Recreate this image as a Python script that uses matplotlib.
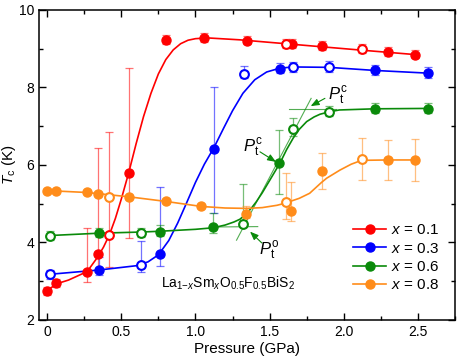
import numpy as np
import matplotlib
matplotlib.use("Agg")
import matplotlib.pyplot as plt
from matplotlib.ticker import MultipleLocator
from matplotlib.lines import Line2D

plt.rcParams['font.family'] = ['Liberation Sans', 'DejaVu Sans']
plt.rcParams['mathtext.fontset'] = 'custom'
plt.rcParams['mathtext.rm'] = 'Liberation Sans'
plt.rcParams['mathtext.it'] = 'Liberation Sans:italic'

# measured points: pressure (GPa), Tc (K), error bars, open marker flag
red_P = [0.00, 0.06, 0.27, 0.34, 0.42, 0.55, 0.80, 1.06, 1.35, 1.61, 1.65, 1.855, 2.12, 2.30, 2.48]
red_T = [2.75, 2.95, 3.23, 3.70, 4.20, 5.80, 9.23, 9.28, 9.21, 9.12, 9.12, 9.07, 8.99, 8.92, 8.85]
red_lo = [0.1, 0.1, 0.24, 0.45, 0.82, 1.69, 0.1, 0.1, 0.1, 0.1, 0.1, 0.1, 0.1, 0.1, 0.1]
red_hi = [0.1, 0.1, 1.15, 2.74, 2.65, 2.70, 0.13, 0.13, 0.13, 0.13, 0.13, 0.13, 0.13, 0.13, 0.13]
red_open = [0, 0, 0, 0, 1, 0, 0, 0, 0, 1, 0, 0, 1, 0, 0]

blue_P = [0.02, 0.35, 0.635, 0.76, 1.125, 1.325, 1.57, 1.655, 1.90, 2.21, 2.57]
blue_T = [3.18, 3.29, 3.43, 3.70, 6.41, 8.36, 8.49, 8.52, 8.53, 8.44, 8.37]
blue_lo = [0.12, 0.13, 0.19, 0.31, 1.64, 0.12, 0.12, 0.12, 0.12, 0.12, 0.12]
blue_hi = [0.12, 0.33, 0.60, 1.72, 1.61, 0.20, 0.15, 0.15, 0.15, 0.15, 0.15]
blue_open = [1, 0, 1, 0, 0, 1, 0, 1, 1, 0, 0]

green_P = [0.02, 0.35, 0.635, 0.76, 1.12, 1.32, 1.565, 1.655, 1.90, 2.21, 2.57]
green_T = [4.18, 4.25, 4.25, 4.28, 4.40, 4.49, 6.04, 6.94, 7.38, 7.45, 7.45]
green_lo = [0.12, 0.12, 0.12, 0.12, 0.15, 0.10, 0.78, 0.20, 0.12, 0.12, 0.12]
green_hi = [0.12, 0.12, 0.12, 0.18, 0.36, 1.03, 0.86, 0.26, 0.15, 0.15, 0.15]
green_open = [1, 0, 1, 0, 0, 1, 0, 1, 1, 0, 0]

orange_P = [0.00, 0.06, 0.27, 0.34, 0.42, 0.55, 0.80, 1.04, 1.34, 1.61, 1.645, 1.855, 2.12, 2.30, 2.48]
orange_T = [5.34, 5.32, 5.30, 5.26, 5.18, 5.18, 5.06, 4.94, 4.74, 5.04, 4.82, 5.85, 6.15, 6.13, 6.13]
orange_lo = [0.05, 0.05, 0.05, 0.05, 0.05, 0.05, 0.05, 0.05, 0.10, 0.44, 0.27, 0.47, 0.55, 0.52, 0.55]
orange_hi = [0.05, 0.05, 0.05, 0.05, 0.05, 0.05, 0.05, 0.05, 0.19, 0.76, 0.75, 0.47, 0.55, 0.52, 0.55]
orange_open = [0, 0, 0, 0, 1, 0, 0, 0, 0, 1, 0, 0, 1, 0, 0]

# fit curves
red_fit_P = [0.00, 0.06, 0.144, 0.27, 0.34, 0.38, 0.42, 0.46, 0.50, 0.55, 0.60, 0.65, 0.70, 0.75, 0.80, 0.85, 0.90, 0.95, 1.00, 1.08, 1.30, 1.70, 2.10, 2.48]
red_fit_T = [2.75, 2.93, 3.03, 3.25, 3.62, 3.88, 4.20, 4.62, 5.12, 5.80, 6.55, 7.25, 7.85, 8.35, 8.72, 8.97, 9.13, 9.22, 9.26, 9.28, 9.23, 9.10, 8.97, 8.85]
blue_fit_P = [0.02, 0.35, 0.60, 0.68, 0.75, 0.82, 0.88, 0.94, 1.00, 1.06, 1.125, 1.19, 1.25, 1.32, 1.40, 1.48, 1.57, 1.66, 1.90, 2.21, 2.57]
blue_fit_T = [3.18, 3.29, 3.40, 3.50, 3.68, 4.05, 4.50, 5.02, 5.55, 6.02, 6.45, 6.95, 7.40, 7.85, 8.20, 8.40, 8.50, 8.53, 8.52, 8.44, 8.37]
green_fit_P = [0.02, 0.35, 0.635, 0.76, 1.00, 1.12, 1.20, 1.26, 1.30, 1.34, 1.38, 1.41, 1.45, 1.50, 1.57, 1.615, 1.66, 1.70, 1.75, 1.80, 1.84, 1.90, 1.97, 2.21, 2.57]
green_fit_T = [4.18, 4.24, 4.27, 4.29, 4.34, 4.38, 4.45, 4.53, 4.60, 4.73, 4.90, 5.05, 5.28, 5.60, 6.05, 6.40, 6.70, 6.92, 7.12, 7.24, 7.31, 7.37, 7.42, 7.45, 7.46]
orange_fit_P = [0.00, 0.27, 0.55, 0.80, 1.04, 1.20, 1.345, 1.45, 1.55, 1.60, 1.70, 1.77, 1.85, 1.885, 1.975, 2.05, 2.12, 2.30, 2.48]
orange_fit_T = [5.34, 5.29, 5.18, 5.06, 4.93, 4.89, 4.88, 4.90, 4.96, 5.01, 5.14, 5.27, 5.55, 5.66, 5.87, 6.02, 6.12, 6.13, 6.13]

# tangent construction lines for x = 0.6
steep_P = [1.277, 1.78]
steep_T = [4.06, 7.72]
top_P = [1.63, 1.95]
top_T = [7.45, 7.45]
base_P = [1.12, 1.42]
base_T = [4.40, 4.41]

labels = ['0.1', '0.3', '0.6', '0.8']
colors = ['#ff0000', '#0000ff', '#0a8a0a', '#ff8c1a']

series = [
    (red_P, red_T, red_lo, red_hi, red_open, red_fit_P, red_fit_T),
    (blue_P, blue_T, blue_lo, blue_hi, blue_open, blue_fit_P, blue_fit_T),
    (green_P, green_T, green_lo, green_hi, green_open, green_fit_P, green_fit_T),
    (orange_P, orange_T, orange_lo, orange_hi, orange_open, orange_fit_P, orange_fit_T),
]

fig = plt.figure(figsize=(4.63, 3.61), dpi=100)
ax = fig.add_axes([0.0842, 0.1136, 0.8985, 0.8587])

for (P, T, lo, hi, op, fP, fT), c in zip(series, colors):
    P = np.array(P); T = np.array(T); op = np.array(op, bool)
    ax.errorbar(P, T, yerr=[lo, hi], fmt='none', ecolor=c, alpha=0.55,
                elinewidth=0.9, capsize=2.8, capthick=0.9, zorder=2)
    ax.plot(fP, fT, '-', color=c, lw=1.2, zorder=3)
    ax.plot(P[~op], T[~op], 'o', ms=6.5, mfc=c, mec=c, zorder=4)
    ax.plot(P[op], T[op], 'o', ms=6.3, mfc='white', mec=c, mew=1.5, zorder=4)

g = colors[2]
for xs, ys in [(steep_P, steep_T), (top_P, top_T), (base_P, base_T)]:
    ax.plot(xs, ys, '-', color=g, lw=0.8, alpha=0.7, zorder=2)

arrow = dict(arrowstyle='-|>,head_length=0.5,head_width=0.2', color=g, lw=0.8, shrinkA=0, shrinkB=0)
ax.annotate('', xy=(1.543, 6.08), xytext=(1.435, 6.34), arrowprops=arrow)
ax.annotate('', xy=(1.777, 7.52), xytext=(1.873, 7.72), arrowprops=arrow)
ax.annotate('', xy=(1.368, 4.28), xytext=(1.447, 3.99), arrowprops=arrow)
ax.text(1.39, 6.44, r'$P_{\rm t}^{\rm c}$', fontsize=12, ha='center', va='center')
ax.text(1.96, 7.78, r'$P_{\rm t}^{\rm c}$', fontsize=12, ha='center', va='center')
ax.text(1.50, 3.78, r'$P_{\rm t}^{\rm o}$', fontsize=12, ha='center', va='center')

ax.text(1.22, 2.95, r'La$_{1\mathrm{-}x}$Sm$_{x}$O$_{0.5}$F$_{0.5}$BiS$_{2}$',
        fontsize=10, ha='center', va='center')

handles = [Line2D([], [], color=c, lw=1.2, marker='o', ms=6.5) for c in colors]
ax.legend(handles, [r'$x$ = ' + s for s in labels], loc='lower right',
          bbox_to_anchor=(0.995, 0.045), frameon=False, fontsize=11,
          handlelength=2.2, handletextpad=0.3, labelspacing=0.28)

ax.set_xlim(-0.055, 2.75)
ax.set_ylim(2, 10)
ax.xaxis.set_major_locator(MultipleLocator(0.5))
ax.xaxis.set_minor_locator(MultipleLocator(0.25))
ax.yaxis.set_major_locator(MultipleLocator(2))
ax.yaxis.set_minor_locator(MultipleLocator(1))
ax.set_xticks([0, 0.5, 1.0, 1.5, 2.0, 2.5])
ax.set_xticklabels(['0', '0.5', '1.0', '1.5', '2.0', '2.5'])
ax.tick_params(which='both', direction='in', top=True, right=True, labelsize=10, width=1)
ax.tick_params(which='major', length=5)
ax.tick_params(which='minor', length=3)
for s in ax.spines.values():
    s.set_linewidth(1.1)
ax.set_xlabel('Pressure (GPa)', fontsize=11, labelpad=2)
ax.set_ylabel(r'$T_{\rm c}$ (K)', fontsize=11)
ax.yaxis.set_label_coords(-0.05, 0.5)

fig.savefig('out.png', dpi=100)
